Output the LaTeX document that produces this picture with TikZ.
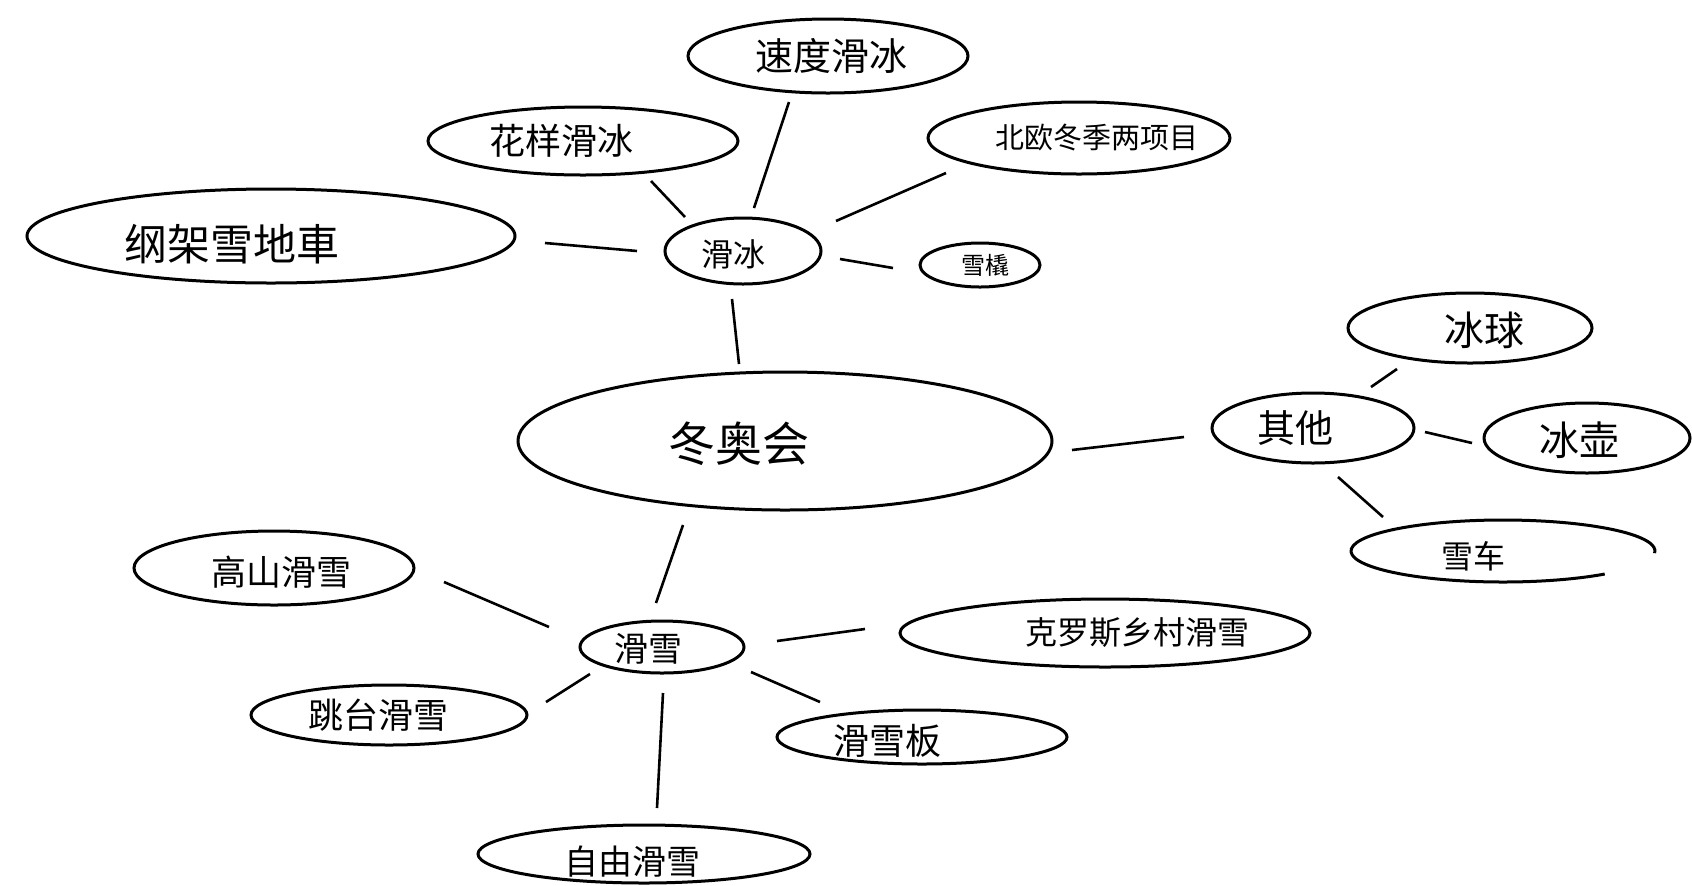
\documentclass[tikz,border=0pt]{standalone}
\usepackage{fontspec}
\setmainfont{Noto Sans CJK SC}
\usetikzlibrary{shapes.geometric,calc}
\tikzset{
  oval/.style={ellipse, draw, line width=1.5pt, inner sep=0pt},
  ghost/.style={ellipse, inner sep=0pt},
  link/.style={line width=1.3pt},
  lbl/.style={inner sep=0pt},
  fs/.style={font=\fontsize{#1pt}{#1pt}\selectfont}
}
\begin{document}
\begin{tikzpicture}[x=0.5pt,y=-0.5pt]
\fill[white] (0,0) rectangle (1692,885);
\useasboundingbox (0,0) rectangle (1692,885);

% ellipses (minimum width = rx pt, minimum height = ry pt at 0.5pt per px)
\node[oval, minimum width=140pt, minimum height=37pt] (sudu) at (828,56) {};
\node[oval, minimum width=155pt, minimum height=34pt] (huayang) at (583,141) {};
\node[oval, minimum width=151pt, minimum height=36pt] (beiou) at (1079,138) {};
\node[oval, minimum width=244pt, minimum height=47pt] (gangjia) at (271,236) {};
\node[oval, minimum width=78pt, minimum height=33pt] (huabing) at (743,251) {};
\node[oval, minimum width=60pt, minimum height=22pt] (xueqiao) at (980,265) {};
\node[oval, minimum width=267pt, minimum height=69pt] (dongao) at (785,441) {};
\node[oval, minimum width=101pt, minimum height=35pt] (qita) at (1313,428) {};
\node[oval, minimum width=122pt, minimum height=35pt] (bingqiu) at (1470,328) {};
\node[oval, minimum width=103pt, minimum height=35pt] (binghu) at (1587,438) {};
\node[ghost, minimum width=152pt, minimum height=31pt] (xuche) at (1503,551) {};
\draw[line width=1.5pt] ($(xuche.center)+({152*cos(4)},{31*sin(4)})$)
  arc[start angle=4, end angle=-312, x radius=152, y radius=31];
\node[oval, minimum width=140pt, minimum height=37pt] (gaoshan) at (274,568) {};
\node[oval, minimum width=82pt, minimum height=26pt] (huaxue) at (662,647) {};
\node[oval, minimum width=138pt, minimum height=30pt] (tiaotai) at (389,715) {};
\node[oval, minimum width=166pt, minimum height=29pt] (ziyou) at (644,854) {};
\node[oval, minimum width=205pt, minimum height=34pt] (keluosi) at (1105,633) {};
\node[oval, minimum width=145pt, minimum height=27pt] (huaxueban) at (922,737) {};

% labels
\node[lbl, fs=19] (t-sudu) at ($(sudu)+(3,0)$) {速度滑冰};
\node[lbl, fs=18] (t-huayang) at ($(huayang)+(-22,0)$) {花样滑冰};
\node[lbl, fs=14.5] (t-beiou) at ($(beiou)+(18,0)$) {北欧冬季两项目};
\node[lbl, fs=21.5] (t-gangjia) at ($(gangjia)+(-39,8)$) {纲架雪地車};
\node[lbl, fs=16] (t-huabing) at ($(huabing)+(-10,3)$) {滑冰};
\node[lbl, fs=12] (t-xueqiao) at ($(xueqiao)+(5,0)$) {雪橇};
\node[lbl, fs=23.5] (t-dongao) at ($(dongao)+(-46,3)$) {冬奥会};
\node[lbl, fs=19] (t-qita) at ($(qita)+(-18,0)$) {其他};
\node[lbl, fs=20] (t-bingqiu) at ($(bingqiu)+(14,2)$) {冰球};
\node[lbl, fs=20] (t-binghu) at ($(binghu)+(-8,2)$) {冰壶};
\node[lbl, fs=16] (t-xuche) at ($(xuche)+(-30,5)$) {雪车};
\node[lbl, fs=17.5] (t-gaoshan) at ($(gaoshan)+(7,4)$) {高山滑雪};
\node[lbl, fs=17] (t-huaxue) at ($(huaxue)+(-14,2)$) {滑雪};
\node[lbl, fs=17.5] (t-tiaotai) at ($(tiaotai)+(-11,0)$) {跳台滑雪};
\node[lbl, fs=17] (t-ziyou) at ($(ziyou)+(-12,8)$) {自由滑雪};
\node[lbl, fs=16] (t-keluosi) at ($(keluosi)+(32,0)$) {克罗斯乡村滑雪};
\node[lbl, fs=18] (t-huaxueban) at ($(huaxueban)+(-35,4)$) {滑雪板};

% connectors (free-floating, with gaps at both ends)
\draw[link] ($(huabing)+(11,-43)$) -- ($(sudu)+(-39,46)$);
\draw[link] ($(huabing)+(-58,-34)$) -- ($(huayang)+(68,40)$);
\draw[link] ($(huabing)+(93,-30)$) -- ($(beiou)+(-133,35)$);
\draw[link] ($(huabing)+(-106,0)$) -- ($(gangjia)+(274,7)$);
\draw[link] ($(huabing)+(97,8)$) -- ($(xueqiao)+(-87,3)$);
\draw[link] ($(huabing)+(-11,48)$) -- ($(dongao)+(-46,-77)$);
\draw[link] ($(dongao)+(287,9)$) -- ($(qita)+(-129,9)$);
\draw[link] ($(qita)+(58,-41)$) -- ($(bingqiu)+(-73,41)$);
\draw[link] ($(qita)+(112,4)$) -- ($(binghu)+(-115,5)$);
\draw[link] ($(qita)+(25,49)$) -- ($(xuche)+(-120,-34)$);
\draw[link] ($(dongao)+(-102,84)$) -- ($(huaxue)+(-6,-44)$);
\draw[link] ($(huaxue)+(-113,-20)$) -- ($(gaoshan)+(170,14)$);
\draw[link] ($(huaxue)+(-72,27)$) -- ($(tiaotai)+(157,-13)$);
\draw[link] ($(huaxue)+(1,46)$) -- ($(ziyou)+(13,-46)$);
\draw[link] ($(huaxue)+(115,-6)$) -- ($(keluosi)+(-240,-4)$);
\draw[link] ($(huaxue)+(89,25)$) -- ($(huaxueban)+(-102,-35)$);
\end{tikzpicture}
\end{document}
